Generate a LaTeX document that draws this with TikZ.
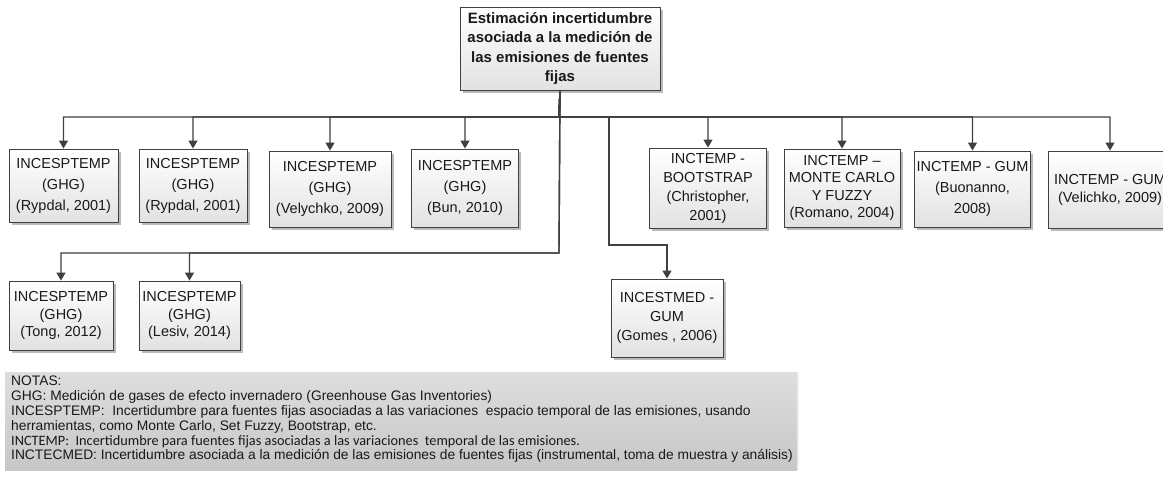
\documentclass[tikz,border=0pt]{standalone}
\usepackage{fontspec}
\setmainfont{Liberation Sans}
\newfontfamily\calfont{Carlito}
\usetikzlibrary{arrows.meta,shadows}
\definecolor{linec}{HTML}{404040}
\definecolor{boxbot}{HTML}{E2E2E2}
\tikzset{
  box/.style={draw=linec, line width=0.9pt, top color=white, bottom color=boxbot,
    drop shadow={shadow xshift=2.5pt, shadow yshift=-2.5pt, fill=black!45, opacity=0.6},
    align=center, inner sep=2pt, text=black!90},
  boxfont/.style={font=\fontsize{14.5}{#1}\selectfont},
  conn/.style={draw=linec, line width=1.4pt},
  arr/.style={conn, -{Triangle[width=9pt,length=8pt]}},
}
\begin{document}
\begin{tikzpicture}[x=1pt,y=-1pt]
\clip (0,0) rectangle (1163,479);
\fill[white] (0,0) rectangle (1163,479);

% root
\node[box, minimum width=200pt, minimum height=83pt, font=\bfseries\fontsize{15}{19.5}\selectfont] (root) at (560,48.5)
  {Estimación incertidumbre\\asociada a la medición de\\las emisiones de fuentes\\fijas};

% top row
\node[box, boxfont=21, minimum width=109pt, minimum height=73pt] (a1) at (63.5,185.5) {INCESPTEMP\\(GHG)\\(Rypdal, 2001)};
\node[box, boxfont=21, minimum width=108pt, minimum height=73pt] (a2) at (193,185.5) {INCESPTEMP\\(GHG)\\(Rypdal, 2001)};
\node[box, boxfont=21, minimum width=122pt, minimum height=76pt] (a3) at (330,189) {INCESPTEMP\\(GHG)\\(Velychko, 2009)};
\node[box, boxfont=21, minimum width=107pt, minimum height=78pt] (a4) at (465,188) {INCESPTEMP\\(GHG)\\(Bun, 2010)};
\node[box, boxfont=19, minimum width=117pt, minimum height=80pt] (b1) at (708,188) {INCTEMP -\\BOOTSTRAP\\(Christopher,\\2001)};
\node[box, boxfont=17.5, minimum width=116pt, minimum height=78pt] (b2) at (842,188) {INCTEMP –\\MONTE CARLO\\Y FUZZY\\(Romano, 2004)};
\node[box, boxfont=21, minimum width=109pt, minimum height=76pt] (b3) at (972.5,189) {INCTEMP - GUM\\(Buonanno,\\2008)};
\node[box, boxfont=18, minimum width=124pt, minimum height=77pt] (b4) at (1110,189.5) {INCTEMP - GUM\\(Velichko, 2009)};

% bottom row
\node[box, boxfont=17.5, minimum width=104pt, minimum height=69pt] (c1) at (61,315.5) {INCESPTEMP\\(GHG)\\(Tong, 2012)};
\node[box, boxfont=17.5, minimum width=101pt, minimum height=69pt] (c2) at (189.5,315.5) {INCESPTEMP\\(GHG)\\(Lesiv, 2014)};
\node[box, boxfont=19, minimum width=112pt, minimum height=78pt] (d1) at (667,318) {INCESTMED -\\GUM\\(Gomes , 2006)};

% junctions
\coordinate (bus) at (559,117);
\coordinate (trunk) at (559,253);
\coordinate (bj) at (609,117);
\coordinate (bk) at (609,245);

% connectors
\foreach \n in {a1,a2,a3,a4,b1,b2,b3,b4}
  \draw[arr] (root.south) -- (bus) -| (\n.north);
\draw[arr] (root.south) -- (trunk) -| (c1.north);
\draw[arr] (root.south) -- (trunk) -| (c2.north);
\draw[arr] (bus) -- (bj) -- (bk) -| (d1.north);

% notes
\node[anchor=north west, inner sep=0pt, minimum width=792pt, minimum height=98pt,
  top color=black!13, bottom color=black!22,
  drop shadow={shadow xshift=2pt, shadow yshift=0pt, fill=black!10, opacity=0.6}] (notesbg) at (5,372) {};
\node[anchor=north west, inner sep=0pt, align=left, font=\fontsize{13.8}{14.8}\selectfont, text=black!90] (notes) at (11,376)
{NOTAS:\\
GHG: Medición de gases de efecto invernadero (Greenhouse Gas Inventories)\\
INCESPTEMP:\ \ Incertidumbre para fuentes fijas asociadas a las variaciones\ \ espacio temporal de las emisiones, usando\\
herramientas, como Monte Carlo, Set Fuzzy, Bootstrap, etc.\\
{\calfont\fontsize{14.3}{14.8}\selectfont INCTEMP:\ \ Incertidumbre para fuentes fijas asociadas a las variaciones\ \ temporal de las emisiones.}\\
INCTECMED: Incertidumbre asociada a la medición de las emisiones de fuentes fijas (instrumental, toma de muestra y análisis)};
\end{tikzpicture}
\end{document}
